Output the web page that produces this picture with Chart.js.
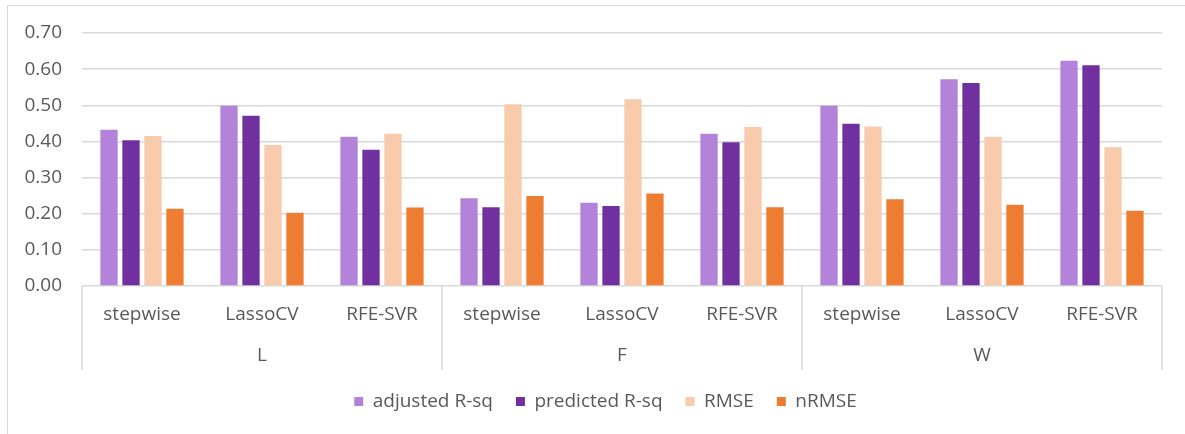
<!DOCTYPE html>
<html>
<head>
<meta charset="utf-8">
<script src="https://cdn.jsdelivr.net/npm/chart.js@4"></script>
<style>
  html, body { margin: 0; padding: 0; background: #fff; overflow: hidden; }
  #frame {
    position: absolute; left: 7px; top: 5px;
    width: 1200px; height: 450px;
    border: 1px solid #d9d9d9;
  }
</style>
</head>
<body>
<div id="frame"><canvas id="chart" width="1200" height="450"></canvas></div>
<script>
"use strict";

// data
const groups = ['L', 'F', 'W'];
const methods = ['stepwise', 'LassoCV', 'RFE-SVR'];
const adjustedRsq  = [0.432, 0.499, 0.413, 0.243, 0.230, 0.421, 0.499, 0.572, 0.623];
const predictedRsq = [0.403, 0.471, 0.377, 0.218, 0.221, 0.398, 0.449, 0.562, 0.611];
const rmse         = [0.415, 0.390, 0.421, 0.503, 0.517, 0.440, 0.441, 0.413, 0.384];
const nrmse        = [0.214, 0.203, 0.217, 0.249, 0.256, 0.218, 0.240, 0.225, 0.208];
const yTicks = [0, 0.1, 0.2, 0.3, 0.4, 0.5, 0.6, 0.7];

const labels = groups.flatMap(() => methods);
const textColor = '#595959';
const lineColor = '#d9d9d9';
const font = { family: '"Open Sans", sans-serif', size: 19 };

// group separators under the category axis
const separators = {
  id: 'separators',
  afterDraw(chart) {
    const x = chart.scales.x;
    const x2 = chart.scales.x2;
    const step = x.getPixelForTick(1) - x.getPixelForTick(0);
    const ctx = chart.ctx;
    ctx.save();
    ctx.strokeStyle = lineColor;
    ctx.lineWidth = 1.5;
    for (let k = 0; k <= groups.length; k++) {
      const i = Math.min(k * methods.length, labels.length - 1);
      const px = k * methods.length < labels.length
        ? x.getPixelForTick(i) - step / 2
        : x.getPixelForTick(i) + step / 2;
      ctx.beginPath();
      ctx.moveTo(px, chart.chartArea.bottom);
      ctx.lineTo(px, x2.bottom + 1);
      ctx.stroke();
    }
    ctx.restore();
  }
};

const bar = (label, data, color) => ({
  label, data,
  backgroundColor: color,
  borderWidth: 0,
  categoryPercentage: 0.733,
  barPercentage: 0.786
});

new Chart(document.getElementById('chart'), {
  type: 'bar',
  data: {
    labels,
    datasets: [
      bar('adjusted R-sq', adjustedRsq, '#b383d9'),
      bar('predicted R-sq', predictedRsq, '#7030a0'),
      bar('RMSE', rmse, '#f8cbad'),
      bar('nRMSE', nrmse, '#ed7d31')
    ]
  },
  options: {
    responsive: false,
    animation: false,
    layout: { padding: { left: 0, right: 5, top: 27, bottom: 35 } },
    scales: {
      y: {
        min: 0, max: 0.7,
        afterBuildTicks: (s) => { s.ticks = yTicks.map(v => ({ value: v })); },
        afterFit: (s) => { s.width = 74; s.paddingTop = 0; s.paddingBottom = 0; },
        border: { display: false },
        grid: { color: lineColor, lineWidth: 1.5, drawTicks: false },
        ticks: { color: textColor, font, padding: 20, callback: (v) => Number(v).toFixed(2) }
      },
      // empty right margin so the legend centres on the whole frame
      yRight: {
        type: 'linear',
        position: 'right',
        afterFit: (s) => { s.width = 41; s.paddingTop = 0; s.paddingBottom = 0; },
        border: { display: false },
        grid: { display: false, drawTicks: false },
        ticks: { display: false }
      },
      x: {
        weight: 0,
        afterFit: (s) => { s.height = 50; },
        border: { display: false },
        grid: { display: false, drawTicks: false },
        ticks: { color: textColor, font, padding: 17, maxRotation: 0, autoSkip: false }
      },
      x2: {
        type: 'category',
        position: 'bottom',
        labels: groups,
        offset: true,
        weight: 1,
        afterFit: (s) => { s.height = 33; },
        border: { display: false },
        grid: { display: false, drawTicks: false },
        ticks: { color: textColor, font, padding: 8, maxRotation: 0 }
      }
    },
    plugins: {
      legend: {
        position: 'bottom',
        labels: { color: textColor, font, boxWidth: 9, boxHeight: 9, padding: 23 }
      },
      tooltip: { enabled: false }
    }
  },
  plugins: [separators]
});
</script>
</body>
</html>
